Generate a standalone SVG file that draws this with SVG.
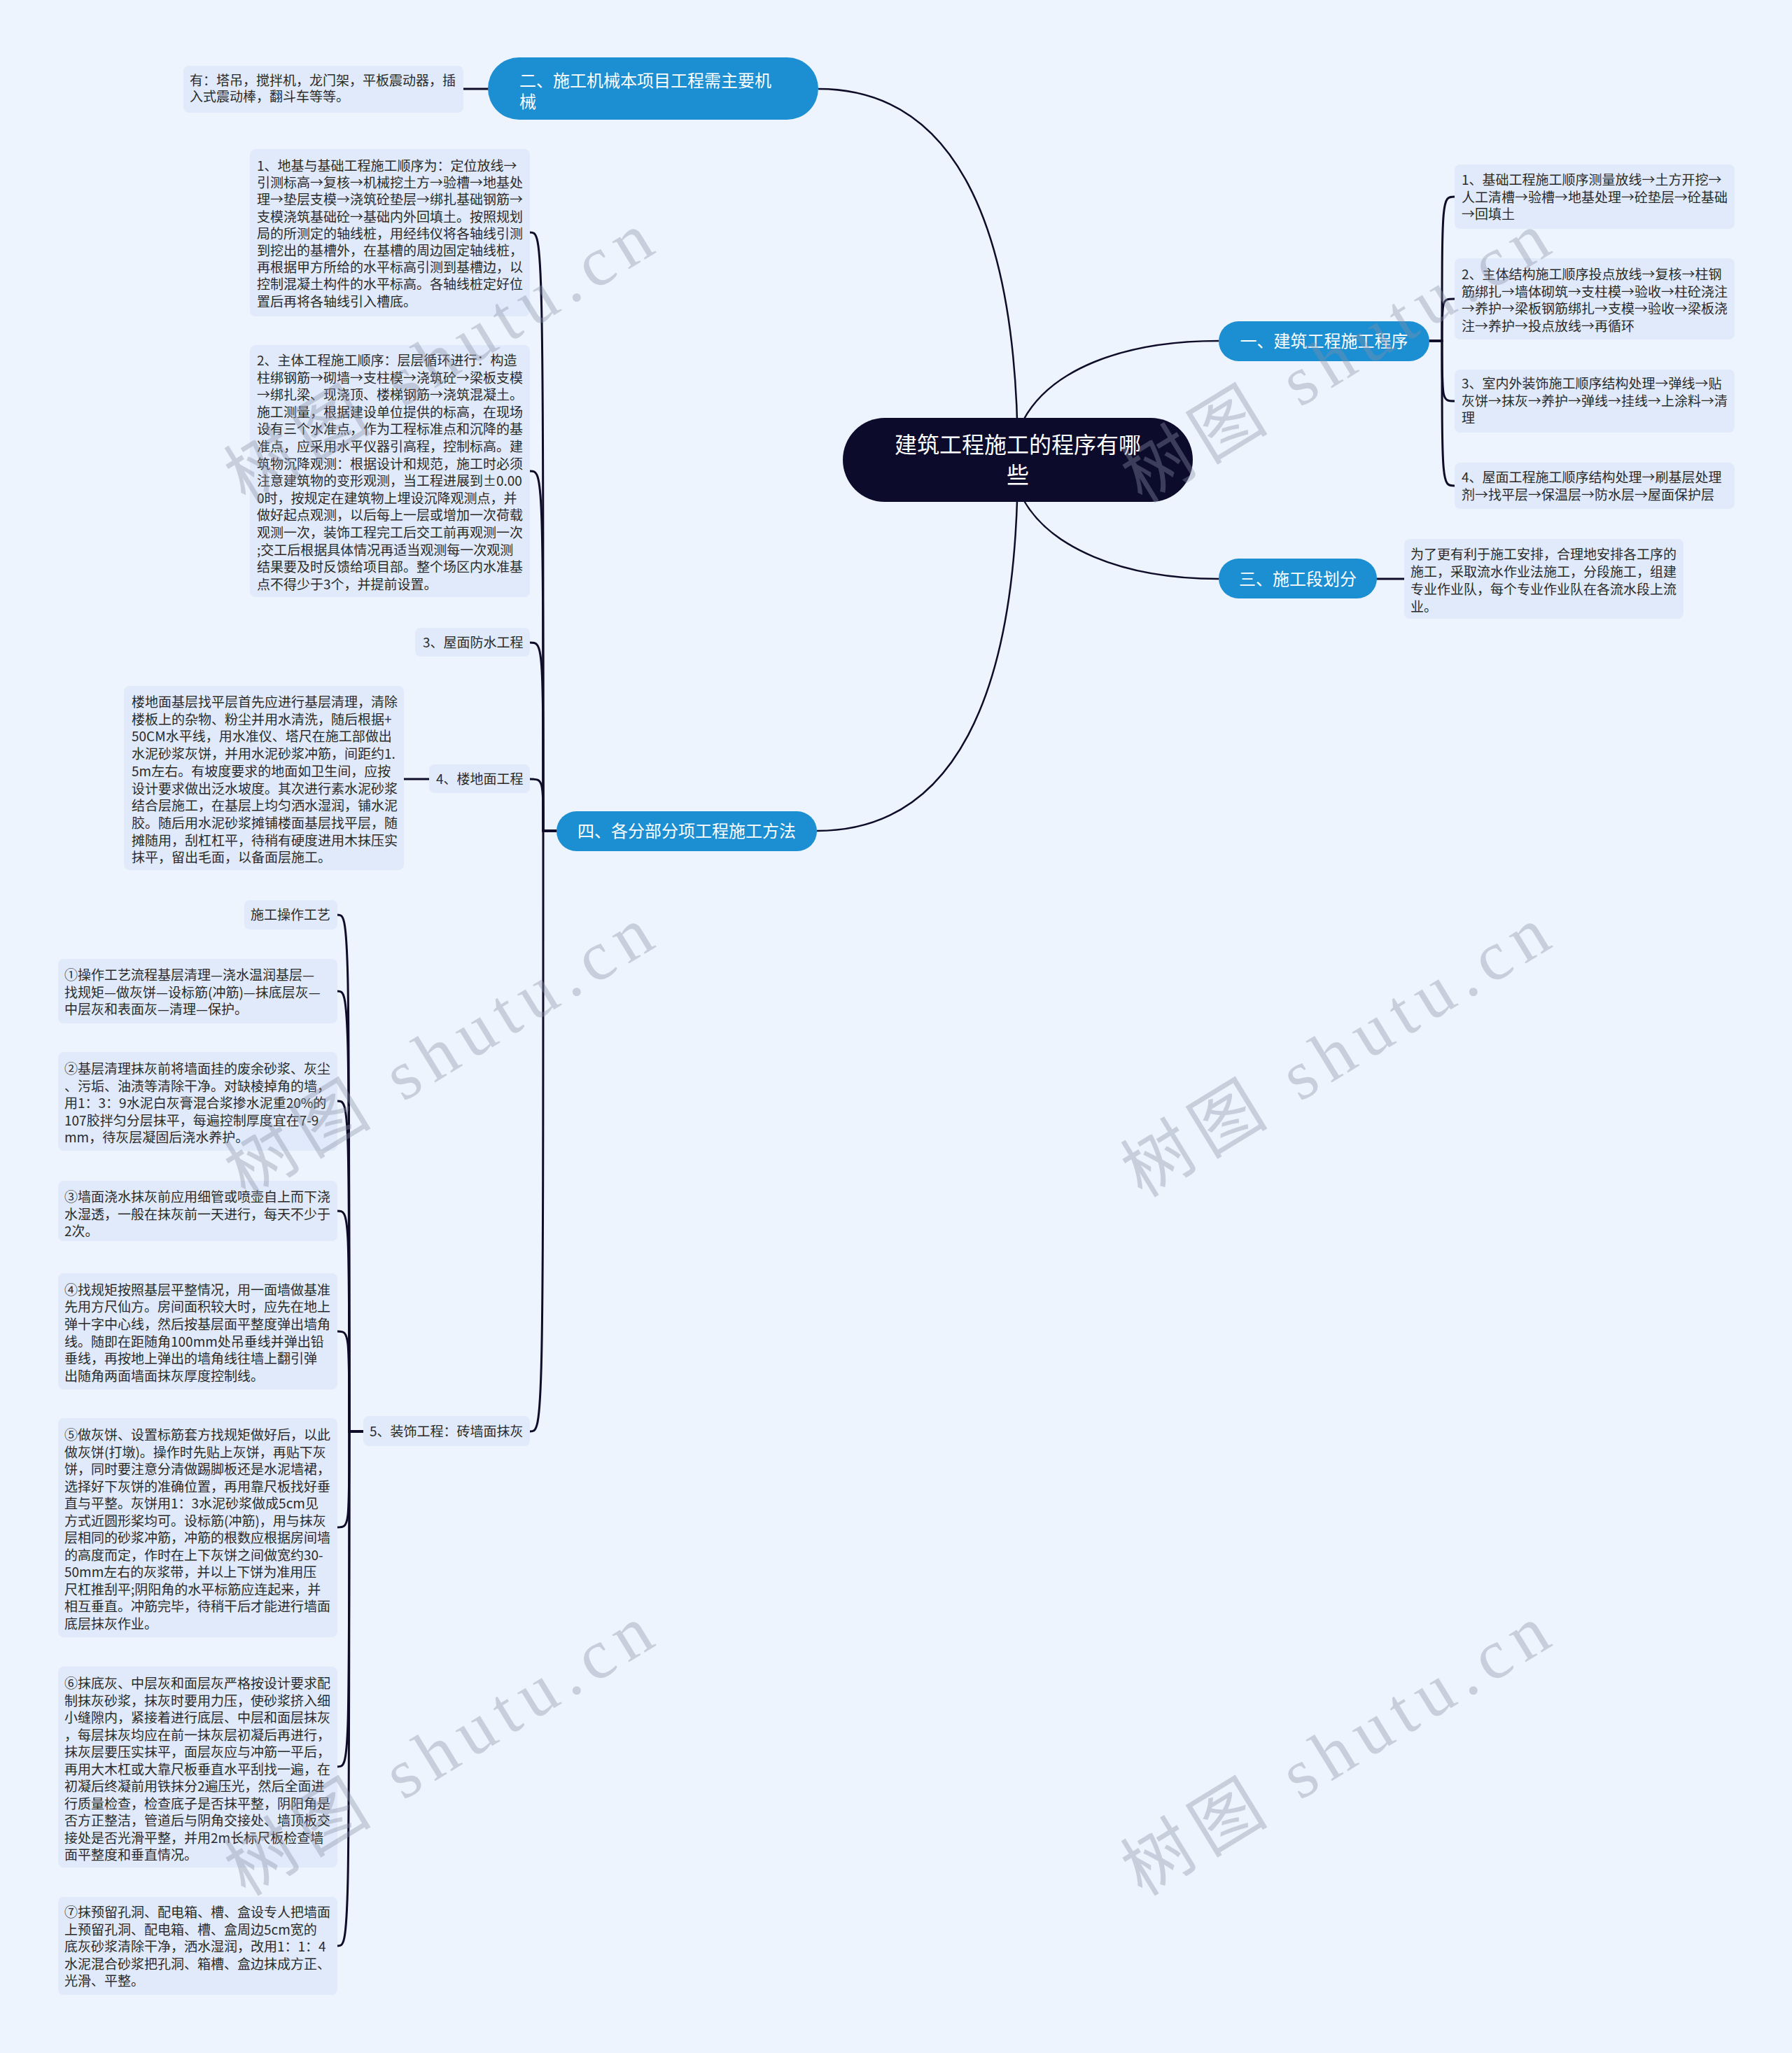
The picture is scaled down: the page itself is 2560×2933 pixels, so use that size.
<svg xmlns="http://www.w3.org/2000/svg" width="2560" height="2933" viewBox="0 0 2560 2933">
<style>
.bg{fill:#eef4fd}
.root{fill:#0d0b2c}
.main{fill:#1b8fd2}
.leaf{fill:#e1eafa}
.rt{font-family:"Noto Sans CJK SC","Noto Sans",sans-serif;font-size:32px;fill:#ffffff}
.mt{font-family:"Noto Sans CJK SC","Noto Sans",sans-serif;font-size:24px;fill:#ffffff}
.lt{font-family:"Noto Sans CJK SC","Noto Sans",sans-serif;font-size:19px;fill:#2a2a2a}
.ln{fill:none;stroke:#0f0c29;stroke-width:3;stroke-linecap:round}
.lr{fill:none;stroke:#0f0c29;stroke-width:2.5}
.wm{font-family:"Liberation Serif","Noto Sans CJK SC",serif;font-size:100px;fill:#8a90a6;fill-opacity:0.38}
</style>
<rect class="bg" x="0" y="0" width="2560" height="2933"/>
<g id="connectors">
<path class="lr" d="M1454,657 C1454,314 1360,127 1169,127"/>
<path class="lr" d="M1454,657 C1454,1000 1360,1187 1167,1187"/>
<path class="lr" d="M1462,600 C1500,530 1600,487 1741,487"/>
<path class="lr" d="M1462,714 C1500,781 1600,827 1741,827"/>
<path class="ln" d="M697,127 L662,127"/>
<path class="ln" d="M1967,827 L2006,827"/>
<path class="ln" d="M2042,487 L2060,487 C2060,281 2060,281 2078,281"/>
<path class="ln" d="M2042,487 L2060,487 C2060,427 2060,427 2078,427"/>
<path class="ln" d="M2042,487 L2060,487 C2060,573 2060,573 2078,573"/>
<path class="ln" d="M2042,487 L2060,487 C2060,694 2060,694 2078,694"/>
<path class="ln" d="M795,1187 L776,1187 C776,332 776,332 757,332"/>
<path class="ln" d="M795,1187 L776,1187 C776,673 776,673 757,673"/>
<path class="ln" d="M795,1187 L776,1187 C776,918 776,918 757,918"/>
<path class="ln" d="M795,1187 L776,1187 C776,1113 776,1113 757,1113"/>
<path class="ln" d="M795,1187 L776,1187 C776,2045 776,2045 757,2045"/>
<path class="ln" d="M613,1113 L577,1113"/>
<path class="ln" d="M519,2045 L499,2045 C499,1307 499,1307 482,1307"/>
<path class="ln" d="M519,2045 L499,2045 C499,1416 499,1416 482,1416"/>
<path class="ln" d="M519,2045 L499,2045 C499,1573 499,1573 482,1573"/>
<path class="ln" d="M519,2045 L499,2045 C499,1730 499,1730 482,1730"/>
<path class="ln" d="M519,2045 L499,2045 C499,1902 499,1902 482,1902"/>
<path class="ln" d="M519,2045 L499,2045 C499,2182 499,2182 482,2182"/>
<path class="ln" d="M519,2045 L499,2045 C499,2524 499,2524 482,2524"/>
<path class="ln" d="M519,2045 L499,2045 C499,2780 499,2780 482,2780"/>
</g>
<g id="root">
<rect class="root" x="1204" y="597" width="500" height="120" rx="60"/>
<text class="rt" text-anchor="middle"><tspan x="1454" y="647">建筑工程施工的程序有哪</tspan><tspan x="1454" y="690">些</tspan></text>
</g>
<g id="n2">
<rect class="main" x="697" y="82" width="472" height="89" rx="44.5"/>
<text class="mt"><tspan x="742" y="123.5">二、施工机械本项目工程需主要机</tspan><tspan x="742" y="153.5">械</tspan></text>
</g>
<g id="n2-leaf">
<rect class="leaf" x="262" y="94" width="400" height="67" rx="8"/>
<text class="lt"><tspan x="271" y="122">有：塔吊，搅拌机，龙门架，平板震动器，插</tspan><tspan x="271" y="145">入式震动棒，翻斗车等等。</tspan></text>
</g>
<g id="n1">
<rect class="main" x="1741" y="459" width="301" height="57" rx="28.5"/>
<text class="mt" x="1891.5" y="495.5" text-anchor="middle">一、建筑工程施工程序</text>
</g>
<g id="n1-c1">
<rect class="leaf" x="2078" y="235" width="400" height="92" rx="8"/>
<text class="lt"><tspan x="2088" y="264">1、基础工程施工顺序测量放线→土方开挖→</tspan><tspan x="2088" dy="24.5">人工清槽→验槽→地基处理→砼垫层→砼基础</tspan><tspan x="2088" dy="24.5">→回填土</tspan></text>
</g>
<g id="n1-c2">
<rect class="leaf" x="2078" y="369" width="400" height="116" rx="8"/>
<text class="lt"><tspan x="2088" y="399">2、主体结构施工顺序投点放线→复核→柱钢</tspan><tspan x="2088" dy="24.5">筋绑扎→墙体砌筑→支柱模→验收→柱砼浇注</tspan><tspan x="2088" dy="24.5">→养护→梁板钢筋绑扎→支模→验收→梁板浇</tspan><tspan x="2088" dy="24.5">注→养护→投点放线→再循环</tspan></text>
</g>
<g id="n1-c3">
<rect class="leaf" x="2078" y="528" width="400" height="90" rx="8"/>
<text class="lt"><tspan x="2088" y="555">3、室内外装饰施工顺序结构处理→弹线→贴</tspan><tspan x="2088" dy="24.5">灰饼→抹灰→养护→弹线→挂线→上涂料→清</tspan><tspan x="2088" dy="24.5">理</tspan></text>
</g>
<g id="n1-c4">
<rect class="leaf" x="2078" y="661" width="400" height="66" rx="8"/>
<text class="lt"><tspan x="2088" y="689">4、屋面工程施工顺序结构处理→刷基层处理</tspan><tspan x="2088" dy="24.5">剂→找平层→保温层→防水层→屋面保护层</tspan></text>
</g>
<g id="n3">
<rect class="main" x="1741" y="798" width="226" height="57" rx="28.5"/>
<text class="mt" x="1854" y="835.5" text-anchor="middle">三、施工段划分</text>
</g>
<g id="n3-leaf">
<rect class="leaf" x="2006" y="770" width="399" height="114" rx="8"/>
<text class="lt"><tspan x="2015" y="799">为了更有利于施工安排，合理地安排各工序的</tspan><tspan x="2015" dy="25">施工，采取流水作业法施工，分段施工，组建</tspan><tspan x="2015" dy="25">专业作业队，每个专业作业队在各流水段上流</tspan><tspan x="2015" dy="25">业。</tspan></text>
</g>
<g id="n4">
<rect class="main" x="795" y="1159" width="372" height="57" rx="28.5"/>
<text class="mt" x="981" y="1195.5" text-anchor="middle">四、各分部分项工程施工方法</text>
</g>
<g id="n4-c1">
<rect class="leaf" x="357" y="213" width="400" height="239" rx="8"/>
<text class="lt"><tspan x="367" y="244">1、地基与基础工程施工顺序为：定位放线→</tspan><tspan x="367" dy="24.2">引测标高→复核→机械挖土方→验槽→地基处</tspan><tspan x="367" dy="24.2">理→垫层支模→浇筑砼垫层→绑扎基础钢筋→</tspan><tspan x="367" dy="24.2">支模浇筑基础砼→基础内外回填土。按照规划</tspan><tspan x="367" dy="24.2">局的所测定的轴线桩，用经纬仪将各轴线引测</tspan><tspan x="367" dy="24.2">到挖出的基槽外，在基槽的周边固定轴线桩，</tspan><tspan x="367" dy="24.2">再根据甲方所给的水平标高引测到基槽边，以</tspan><tspan x="367" dy="24.2">控制混凝土构件的水平标高。各轴线桩定好位</tspan><tspan x="367" dy="24.2">置后再将各轴线引入槽底。</tspan></text>
</g>
<g id="n4-c2">
<rect class="leaf" x="357" y="493" width="400" height="360" rx="8"/>
<text class="lt"><tspan x="367" y="522">2、主体工程施工顺序：层层循环进行：构造</tspan><tspan x="367" dy="24.6">柱绑钢筋→砌墙→支柱模→浇筑砼→梁板支模</tspan><tspan x="367" dy="24.6">→绑扎梁、现浇顶、楼梯钢筋→浇筑混凝土。</tspan><tspan x="367" dy="24.6">施工测量，根据建设单位提供的标高，在现场</tspan><tspan x="367" dy="24.6">设有三个水准点，作为工程标准点和沉降的基</tspan><tspan x="367" dy="24.6">准点，应采用水平仪器引高程，控制标高。建</tspan><tspan x="367" dy="24.6">筑物沉降观测：根据设计和规范，施工时必须</tspan><tspan x="367" dy="24.6">注意建筑物的变形观测，当工程进展到±0.00</tspan><tspan x="367" dy="24.6">0时，按规定在建筑物上埋设沉降观测点，并</tspan><tspan x="367" dy="24.6">做好起点观测，以后每上一层或增加一次荷载</tspan><tspan x="367" dy="24.6">观测一次，装饰工程完工后交工前再观测一次</tspan><tspan x="367" dy="24.6">;交工后根据具体情况再适当观测每一次观测</tspan><tspan x="367" dy="24.6">结果要及时反馈给项目部。整个场区内水准基</tspan><tspan x="367" dy="24.6">点不得少于3个，并提前设置。</tspan></text>
</g>
<g id="n4-c3">
<rect class="leaf" x="593" y="897" width="164" height="41" rx="8"/>
<text class="lt" x="604" y="925">3、屋面防水工程</text>
</g>
<g id="n4-c4">
<rect class="leaf" x="613" y="1092" width="144" height="41" rx="8"/>
<text class="lt" x="623" y="1120">4、楼地面工程</text>
</g>
<g id="n4-c4-leaf">
<rect class="leaf" x="177" y="980" width="400" height="263" rx="8"/>
<text class="lt"><tspan x="188" y="1010">楼地面基层找平层首先应进行基层清理，清除</tspan><tspan x="188" dy="24.7">楼板上的杂物、粉尘并用水清洗，随后根据+</tspan><tspan x="188" dy="24.7">50CM水平线，用水准仪、塔尺在施工部做出</tspan><tspan x="188" dy="24.7">水泥砂浆灰饼，并用水泥砂浆冲筋，间距约1.</tspan><tspan x="188" dy="24.7">5m左右。有坡度要求的地面如卫生间，应按</tspan><tspan x="188" dy="24.7">设计要求做出泛水坡度。其次进行素水泥砂浆</tspan><tspan x="188" dy="24.7">结合层施工，在基层上均匀洒水湿润，铺水泥</tspan><tspan x="188" dy="24.7">胶。随后用水泥砂浆摊铺楼面基层找平层，随</tspan><tspan x="188" dy="24.7">摊随用，刮杠杠平，待稍有硬度进用木抹压实</tspan><tspan x="188" dy="24.7">抹平，留出毛面，以备面层施工。</tspan></text>
</g>
<g id="n4-c5">
<rect class="leaf" x="519" y="2023" width="238" height="43" rx="8"/>
<text class="lt" x="528" y="2052">5、装饰工程：砖墙面抹灰</text>
</g>
<g id="c5-0">
<rect class="leaf" x="349" y="1286" width="133" height="42" rx="8"/>
<text class="lt" x="358" y="1314">施工操作工艺</text>
</g>
<g id="c5-1">
<rect class="leaf" x="83" y="1370" width="399" height="92" rx="8"/>
<text class="lt"><tspan x="92" y="1400">①操作工艺流程基层清理—浇水温润基层—</tspan><tspan x="92" dy="24.5">找规矩—做灰饼—设标筋(冲筋)—抹底层灰—</tspan><tspan x="92" dy="24.5">中层灰和表面灰—清理—保护。</tspan></text>
</g>
<g id="c5-2">
<rect class="leaf" x="83" y="1503" width="399" height="141" rx="8"/>
<text class="lt"><tspan x="92" y="1534">②基层清理抹灰前将墙面挂的废余砂浆、灰尘</tspan><tspan x="92" dy="24.5">、污垢、油渍等清除干净。对缺棱掉角的墙，</tspan><tspan x="92" dy="24.5">用1：3：9水泥白灰膏混合浆掺水泥重20%的</tspan><tspan x="92" dy="24.5">107胶拌匀分层抹平，每遍控制厚度宜在7-9</tspan><tspan x="92" dy="24.5">mm，待灰层凝固后浇水养护。</tspan></text>
</g>
<g id="c5-3">
<rect class="leaf" x="83" y="1687" width="399" height="86" rx="8"/>
<text class="lt"><tspan x="92" y="1717">③墙面浇水抹灰前应用细管或喷壶自上而下浇</tspan><tspan x="92" dy="24.5">水湿透，一般在抹灰前一天进行，每天不少于</tspan><tspan x="92" dy="24.5">2次。</tspan></text>
</g>
<g id="c5-4">
<rect class="leaf" x="83" y="1819" width="399" height="166" rx="8"/>
<text class="lt"><tspan x="92" y="1849.5">④找规矩按照基层平整情况，用一面墙做基准</tspan><tspan x="92" dy="24.7">先用方尺仙方。房间面积较大时，应先在地上</tspan><tspan x="92" dy="24.7">弹十字中心线，然后按基层面平整度弹出墙角</tspan><tspan x="92" dy="24.7">线。随即在距随角100mm处吊垂线并弹出铅</tspan><tspan x="92" dy="24.7">垂线，再按地上弹出的墙角线往墙上翻引弹</tspan><tspan x="92" dy="24.7">出随角两面墙面抹灰厚度控制线。</tspan></text>
</g>
<g id="c5-5">
<rect class="leaf" x="83" y="2026" width="399" height="313" rx="8"/>
<text class="lt"><tspan x="92" y="2057">⑤做灰饼、设置标筋套方找规矩做好后，以此</tspan><tspan x="92" dy="24.5">做灰饼(打墩)。操作时先贴上灰饼，再贴下灰</tspan><tspan x="92" dy="24.5">饼，同时要注意分清做踢脚板还是水泥墙裙，</tspan><tspan x="92" dy="24.5">选择好下灰饼的准确位置，再用靠尺板找好垂</tspan><tspan x="92" dy="24.5">直与平整。灰饼用1：3水泥砂浆做成5cm见</tspan><tspan x="92" dy="24.5">方式近圆形桨均可。设标筋(冲筋)，用与抹灰</tspan><tspan x="92" dy="24.5">层相同的砂浆冲筋，冲筋的根数应根据房间墙</tspan><tspan x="92" dy="24.5">的高度而定，作时在上下灰饼之间做宽约30-</tspan><tspan x="92" dy="24.5">50mm左右的灰浆带，并以上下饼为准用压</tspan><tspan x="92" dy="24.5">尺杠推刮平;阴阳角的水平标筋应连起来，并</tspan><tspan x="92" dy="24.5">相互垂直。冲筋完毕，待稍干后才能进行墙面</tspan><tspan x="92" dy="24.5">底层抹灰作业。</tspan></text>
</g>
<g id="c5-6">
<rect class="leaf" x="83" y="2381" width="399" height="287" rx="8"/>
<text class="lt"><tspan x="92" y="2412">⑥抹底灰、中层灰和面层灰严格按设计要求配</tspan><tspan x="92" dy="24.5">制抹灰砂浆，抹灰时要用力压，使砂浆挤入细</tspan><tspan x="92" dy="24.5">小缝隙内，紧接着进行底层、中层和面层抹灰</tspan><tspan x="92" dy="24.5">，每层抹灰均应在前一抹灰层初凝后再进行，</tspan><tspan x="92" dy="24.5">抹灰层要压实抹平，面层灰应与冲筋一平后，</tspan><tspan x="92" dy="24.5">再用大木杠或大靠尺板垂直水平刮找一遍，在</tspan><tspan x="92" dy="24.5">初凝后终凝前用铁抹分2遍压光，然后全面进</tspan><tspan x="92" dy="24.5">行质量检查，检查底子是否抹平整，阴阳角是</tspan><tspan x="92" dy="24.5">否方正整洁，管道后与阴角交接处、墙顶板交</tspan><tspan x="92" dy="24.5">接处是否光滑平整，并用2m长标尺板检查墙</tspan><tspan x="92" dy="24.5">面平整度和垂直情况。</tspan></text>
</g>
<g id="c5-7">
<rect class="leaf" x="83" y="2710" width="399" height="140" rx="8"/>
<text class="lt"><tspan x="92" y="2739">⑦抹预留孔洞、配电箱、槽、盒设专人把墙面</tspan><tspan x="92" dy="24.5">上预留孔洞、配电箱、槽、盒周边5cm宽的</tspan><tspan x="92" dy="24.5">底灰砂浆清除干净，洒水湿润，改用1：1：4</tspan><tspan x="92" dy="24.5">水泥混合砂浆把孔洞、箱槽、盒边抹成方正、</tspan><tspan x="92" dy="24.5">光滑、平整。</tspan></text>
</g>
<g id="watermarks">
<text class="wm" text-anchor="middle" transform="translate(645,540) rotate(-31.5)" textLength="690" lengthAdjust="spacing">树图 shutu.cn</text>
<text class="wm" text-anchor="middle" transform="translate(1926,540) rotate(-31.5)" textLength="690" lengthAdjust="spacing">树图 shutu.cn</text>
<text class="wm" text-anchor="middle" transform="translate(645,1532) rotate(-31.5)" textLength="690" lengthAdjust="spacing">树图 shutu.cn</text>
<text class="wm" text-anchor="middle" transform="translate(1926,1532) rotate(-31.5)" textLength="690" lengthAdjust="spacing">树图 shutu.cn</text>
<text class="wm" text-anchor="middle" transform="translate(645,2530) rotate(-31.5)" textLength="690" lengthAdjust="spacing">树图 shutu.cn</text>
<text class="wm" text-anchor="middle" transform="translate(1926,2530) rotate(-31.5)" textLength="690" lengthAdjust="spacing">树图 shutu.cn</text>
</g>
</svg>
